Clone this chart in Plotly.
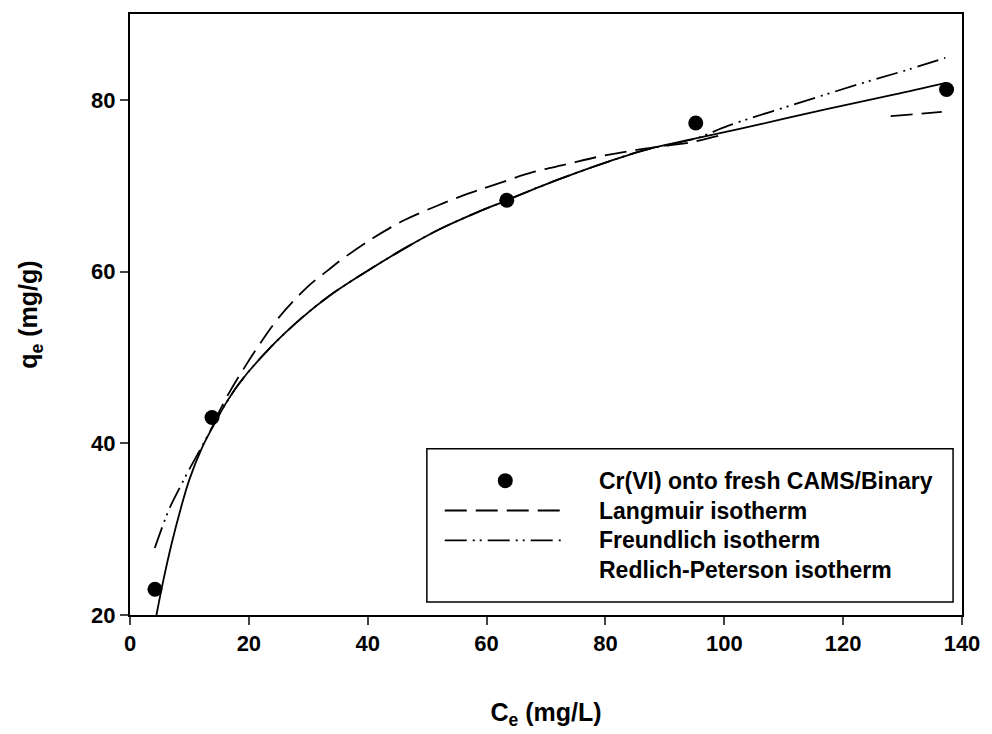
import plotly.graph_objects as go

# Observed data
ce_obs = [4.2, 13.8, 63.4, 95.2, 137.4]
qe_obs = [23.0, 43.0, 68.3, 77.3, 81.2]

# Redlich-Peterson fit (solid)
rp_x = [4.45, 5.6, 7.0, 8.5, 10.0, 12.0, 14.0, 16.0, 18.4, 23.4, 28.9, 33.4, 40.0, 46.2, 52.0, 58.4, 63.4, 69.0, 75.1, 80.5, 86.3, 95.2, 106.3, 117.4, 128.5, 137.4]
rp_y = [20.0, 24.0, 28.3, 32.3, 35.8, 39.3, 42.0, 44.5, 47.0, 51.0, 54.6, 57.1, 60.1, 62.7, 64.9, 66.9, 68.3, 69.9, 71.5, 72.8, 74.1, 75.5, 77.2, 78.95, 80.6, 82.0]

# Langmuir fit (long dashes) (gap where not drawn)
lang_x = [14.0, 16.7, 21.2, 25.0, 30.0, 33.4, 35.6, 40.9, 46.2, 51.8, 57.0, 60.9, 67.9, 73.5, 79.0, 84.6, 90.7, 94.0, 99.0, None, 128.0, 136.6]
lang_y = [42.3, 45.9, 50.9, 54.6, 58.3, 60.2, 61.4, 63.9, 66.0, 67.7, 69.1, 70.0, 71.6, 72.5, 73.4, 74.1, 74.7, 75.0, 75.8, None, 78.1, 78.6]

# Freundlich fit (dash-dot-dot)
fr_x = [4.17, 5.3, 6.7, 8.5, 10.0, 12.0, 14.0, 16.0, 18.4, 23.4, 28.9, 33.4, 40.0, 46.2, 52.0, 58.4, 63.4, 69.0, 75.1, 80.5, 86.3, 95.2, 100.7, 111.9, 123.0, 131.3, 137.2]
fr_y = [27.8, 30.0, 32.5, 35.0, 37.0, 39.5, 42.1, 44.5, 47.0, 51.0, 54.6, 57.1, 60.1, 62.7, 64.9, 66.9, 68.3, 69.9, 71.5, 72.8, 74.1, 75.5, 77.0, 79.5, 81.9, 83.6, 84.9]

x_ticks = [0, 20, 40, 60, 80, 100, 120, 140]
y_ticks = [20, 40, 60, 80]

legend_labels = ["Cr(VI) onto fresh CAMS/Binary", "Langmuir isotherm",
                 "Freundlich isotherm", "Redlich-Peterson isotherm"]

FONT = "Liberation Sans, Arial, sans-serif"
LANG_DASH = "22px,9px"
FR_DASH = "22px,6px,2px,5px,2px,6px"

fig = go.Figure()
fig.add_trace(go.Scatter(x=ce_obs, y=qe_obs, mode="markers",
                         marker=dict(size=15, color="black"), showlegend=False))
fig.add_trace(go.Scatter(x=lang_x, y=lang_y, mode="lines", line_shape="spline",
                         line=dict(color="black", width=1.8, dash=LANG_DASH), showlegend=False))
fig.add_trace(go.Scatter(x=fr_x, y=fr_y, mode="lines", line_shape="spline",
                         line=dict(color="black", width=1.8, dash=FR_DASH), showlegend=False))
fig.add_trace(go.Scatter(x=rp_x, y=rp_y, mode="lines", line_shape="spline",
                         line=dict(color="black", width=1.8), showlegend=False))

# Manual legend (paper coordinates)
L, R, B, T = 130, 968, 616, 12
def px(xp):
    return (xp - L) / (R - L)
def py(yp):
    return (B - yp) / (B - T)

shapes = [
    dict(type="rect", xref="paper", yref="paper", x0=px(429), x1=px(959), y0=py(603), y1=py(449),
         line=dict(color="black", width=1.5), fillcolor="white", layer="above"),
    dict(type="circle", xref="paper", yref="paper", xsizemode="pixel", ysizemode="pixel",
         xanchor=px(508), yanchor=py(481), x0=-7.5, x1=7.5, y0=-7.5, y1=7.5,
         fillcolor="black", line=dict(color="black", width=0), layer="above"),
    dict(type="line", xref="paper", yref="paper", x0=px(447), x1=px(567), y0=py(511), y1=py(511),
         line=dict(color="black", width=1.8, dash=LANG_DASH), layer="above"),
    dict(type="line", xref="paper", yref="paper", x0=px(447), x1=px(567), y0=py(541), y1=py(541),
         line=dict(color="black", width=1.8, dash=FR_DASH), layer="above"),
]
annotations = []
for i, lab in enumerate(legend_labels):
    annotations.append(dict(xref="paper", yref="paper", x=px(600), y=py(481 + 30 * i),
                            xanchor="left", yanchor="middle", text=f"<b>{lab}</b>", showarrow=False,
                            font=dict(family=FONT, size=23, color="black")))

fig.update_layout(
    width=992, height=734,
    margin=dict(l=L, r=992 - R, t=T, b=734 - B),
    paper_bgcolor="white", plot_bgcolor="white",
    shapes=shapes, annotations=annotations,
    font=dict(family=FONT, color="black"),
    xaxis=dict(range=[0, 140], tickvals=x_ticks, ticks="outside", ticklen=8, tickwidth=2,
               showline=True, linewidth=2, linecolor="black", mirror=True, showgrid=False, zeroline=False,
               tickfont=dict(family=FONT, size=22, weight="bold"),
               title=dict(text="<b>C<sub>e</sub> (mg/L)</b>", font=dict(family=FONT, size=25), standoff=48)),
    yaxis=dict(range=[20, 90], tickvals=y_ticks, ticks="outside", ticklen=8, tickwidth=2,
               showline=True, linewidth=2, linecolor="black", mirror=True, showgrid=False, zeroline=False,
               tickfont=dict(family=FONT, size=22, weight="bold"),
               title=dict(text="<b>q<sub>e</sub> (mg/g)</b>", font=dict(family=FONT, size=25), standoff=46)),
)

fig.write_html("out.html")
